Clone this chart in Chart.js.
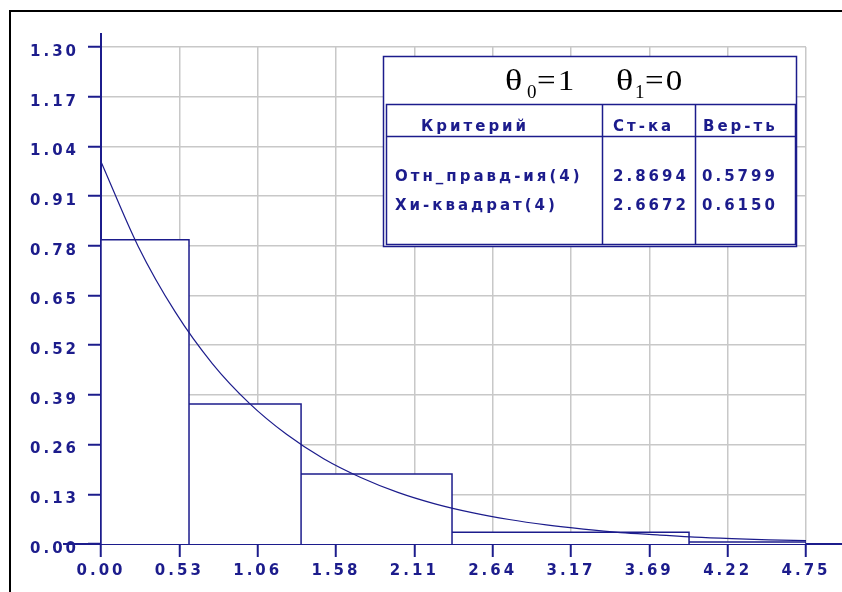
<!DOCTYPE html>
<html><head><meta charset="utf-8">
<script src="https://cdn.jsdelivr.net/npm/chart.js@4.4.1/dist/chart.umd.min.js"></script>
<style>
html,body{margin:0;padding:0;background:#fff;width:842px;height:592px;overflow:hidden}
#frame{position:absolute;left:9px;top:10px;width:900px;height:700px;border-left:2px solid #000;border-top:2px solid #000;box-sizing:border-box}
#wrap{position:absolute;left:0;top:0;width:842px;height:592px}
</style></head><body>
<div id="frame"></div>
<div id="wrap"><canvas id="c" width="842" height="592"></canvas></div>
<script>
// ---- data ----
const binEdges   = [0, 0.593, 1.348, 2.365, 3.962, 4.75];
const binHeights = [0.796, 0.366, 0.183, 0.031, 0.005];
const curveX = [0, 0.25, 0.5, 0.75, 1.0, 1.25, 1.5, 1.75, 2.0, 2.25, 2.5, 2.75, 3.0, 3.25, 3.5, 3.75, 4.0, 4.25, 4.5, 4.75];
const curveY = [1.000, 0.779, 0.607, 0.472, 0.368, 0.287, 0.223, 0.174, 0.135, 0.105, 0.082, 0.064, 0.050, 0.039, 0.030, 0.024, 0.018, 0.014, 0.011, 0.009];
const xTicks = [0, 0.528, 1.056, 1.583, 2.111, 2.639, 3.167, 3.694, 4.222, 4.75];
const yTicks = [0, 0.13, 0.26, 0.39, 0.52, 0.65, 0.78, 0.91, 1.04, 1.17, 1.30];
const titleParts = [['θ', '0', '=1'], ['θ', '1', '=0']];
const tableHeader = ['Критерий', 'Ст-ка', 'Вер-ть'];
const tableRows = [
  ['Отн_правд-ия(4)', '2.8694', '0.5799'],
  ['Хи-квадрат(4)',   '2.6672', '0.6150']
];

// ---- styles ----
const NAVY = '#1c1c8c';
const GRID = '#c8c8c8';
const FONT = '"DejaVu Sans", sans-serif';
const SPACING = '3px';

// histogram outline built from the bin arrays
const histPath = [];
for (let i = 0; i < binHeights.length; i++) {
  histPath.push({x: binEdges[i], y: 0});
  histPath.push({x: binEdges[i], y: binHeights[i]});
  histPath.push({x: binEdges[i + 1], y: binHeights[i]});
  histPath.push({x: binEdges[i + 1], y: 0});
}
const curve = curveX.map((x, i) => ({x, y: curveY[i]}));

const spacingPlugin = {
  id: 'spacing',
  beforeUpdate(c) { c.ctx.letterSpacing = SPACING; },
  beforeLayout(c) { c.ctx.letterSpacing = SPACING; },
  beforeDraw(c) { c.ctx.letterSpacing = SPACING; }
};

const extrasPlugin = {
  id: 'extras',
  afterDraw(c) {
    const ctx = c.ctx, xs = c.scales.x, ys = c.scales.y;
    const x0 = xs.getPixelForValue(0), y0 = ys.getPixelForValue(0), yTop = ys.getPixelForValue(1.3);
    ctx.save();
    ctx.strokeStyle = NAVY; ctx.lineWidth = 2;
    ctx.beginPath();
    ctx.moveTo(x0, yTop); ctx.lineTo(x0, yTop - 14);
    ctx.moveTo(x0 - 38, y0); ctx.lineTo(x0, y0);
    ctx.moveTo(xs.getPixelForValue(4.75), y0); ctx.lineTo(842, y0);
    ctx.stroke();

    // table box
    ctx.lineWidth = 1.5;
    ctx.fillStyle = '#fff';
    ctx.fillRect(383, 56, 414, 191);
    ctx.strokeRect(383.5, 56.5, 413, 190);
    ctx.strokeRect(386.5, 104.5, 409, 140);
    ctx.beginPath();
    ctx.moveTo(386, 136.5); ctx.lineTo(796, 136.5);
    ctx.moveTo(602.5, 104); ctx.lineTo(602.5, 245);
    ctx.moveTo(695.5, 104); ctx.lineTo(695.5, 245);
    ctx.stroke();

    // title with subscripts
    ctx.letterSpacing = '0px';
    ctx.fillStyle = '#000';
    ctx.textBaseline = 'alphabetic'; ctx.textAlign = 'left';
    const pos = [[505, 527, 537], [616, 635, 645]];
    titleParts.forEach((p, i) => {
      ctx.font = '30px "Liberation Serif", serif';
      ctx.save();
      ctx.translate(pos[i][0], 90);
      ctx.scale(1.2, 1);
      ctx.fillText(p[0], 0, 0);
      ctx.restore();
      ctx.font = '19px "Liberation Serif", serif';
      ctx.fillText(p[1], pos[i][1], 98);
      ctx.font = '30px "Liberation Serif", serif';
      ctx.letterSpacing = '2px';
      ctx.save();
      ctx.translate(pos[i][2], 90);
      ctx.scale(1.1, 1);
      ctx.fillText(p[2], 0, 0);
      ctx.restore();
      ctx.letterSpacing = '0px';
    });

    // table text
    ctx.letterSpacing = SPACING;
    ctx.fillStyle = NAVY;
    ctx.font = 'bold 15px ' + FONT;
    const hx = [421, 613, 703];
    tableHeader.forEach((t, i) => ctx.fillText(t, hx[i], 131));
    const cx = [395, 613, 702];
    const ry = [181, 210];
    tableRows.forEach((r, j) => r.forEach((t, i) => ctx.fillText(t, cx[i], ry[j])));
    ctx.restore();
  }
};

const tickFont = {family: FONT, size: 15, weight: 'bold'};

new Chart(document.getElementById('c'), {
  type: 'line',
  data: {
    datasets: [
      {data: curve, borderColor: NAVY, borderWidth: 1.2, pointRadius: 0, fill: false,
       cubicInterpolationMode: 'monotone', order: 0},
      {data: histPath, borderColor: NAVY, borderWidth: 1.5, backgroundColor: '#fff',
       fill: 'origin', pointRadius: 0, tension: 0, order: 1}
    ]
  },
  options: {
    responsive: false, animation: false, devicePixelRatio: 1,
    layout: {padding: {left: 0, top: 47, right: 36, bottom: 0}},
    plugins: {legend: {display: false}, tooltip: {enabled: false}},
    scales: {
      x: {
        type: 'linear', min: 0, max: 4.75,
        afterBuildTicks: s => { s.ticks = xTicks.map(v => ({value: v})); },
        afterFit: s => { s.height = 48; },
        ticks: {color: NAVY, font: tickFont, padding: 5, maxRotation: 0, autoSkip: false,
                callback: v => Number(v).toFixed(2)},
        grid: {color: GRID, lineWidth: 1.5, tickLength: 13, tickColor: NAVY, tickWidth: 2},
        border: {color: NAVY, width: 2}
      },
      y: {
        type: 'linear', min: 0, max: 1.3,
        afterBuildTicks: s => { s.ticks = yTicks.map(v => ({value: v})); },
        afterFit: s => { s.width = 101; },
        ticks: {color: NAVY, font: tickFont, padding: 9, labelOffset: 5, autoSkip: false,
                callback: v => Number(v).toFixed(2)},
        grid: {color: GRID, lineWidth: 1.5, tickLength: 13, tickColor: NAVY, tickWidth: 2},
        border: {color: NAVY, width: 2}
      }
    }
  },
  plugins: [spacingPlugin, extrasPlugin]
});
</script>
</body></html>
